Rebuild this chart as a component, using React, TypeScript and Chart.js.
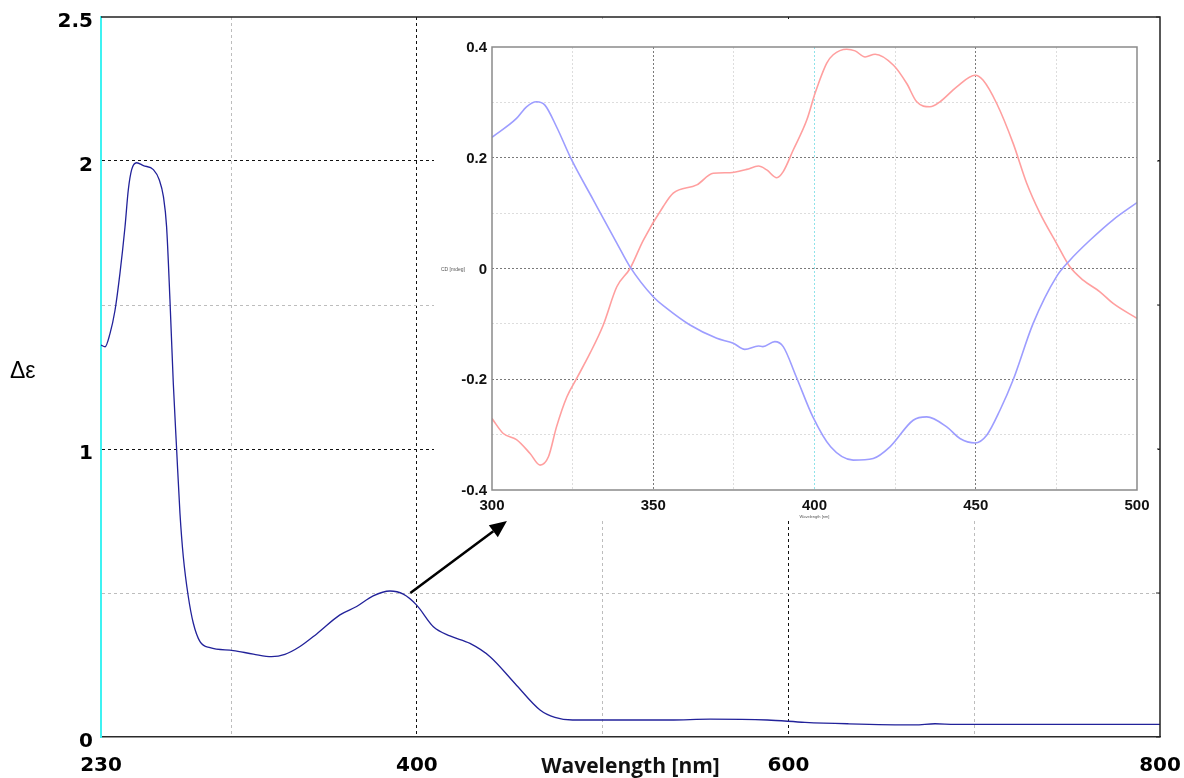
import React, { useEffect, useRef } from "react";
import { Chart, registerables } from "chart.js";

Chart.register(...registerables);

// ---------- main spectrum (Δε vs wavelength) ----------
const mainWavelength = [
  230, 232.2, 234.8, 237.5, 240.2, 242.9, 244.7, 246.5, 249.2, 252.8, 258.2, 261.4, 263.6,
  265.3, 267.1, 268.9, 270.7, 272.5, 274.3, 277, 279.7, 283.3, 288.7, 301.2, 312, 321.8,
  329, 337.1, 346.1, 358.6, 367.6, 376.5, 385.5, 392.7, 399.9, 408.9, 417.8, 428.6, 439.4,
  452.8, 466.3, 474.3, 483.8, 536.2, 557.8, 588.7, 608.9, 631.8, 668, 678.9, 689.6, 800,
];
const mainDeltaEps = [
  1.361, 1.355, 1.4, 1.48, 1.61, 1.77, 1.9, 1.97, 1.994, 1.984, 1.97, 1.934, 1.876,
  1.772, 1.52, 1.23, 1.0, 0.777, 0.626, 0.487, 0.395, 0.331, 0.31, 0.3, 0.288, 0.279,
  0.287, 0.314, 0.358, 0.424, 0.453, 0.49, 0.507, 0.496, 0.458, 0.383, 0.351, 0.325, 0.279,
  0.186, 0.094, 0.068, 0.059, 0.059, 0.062, 0.059, 0.051, 0.046, 0.042, 0.046, 0.044, 0.044,
];
const mainXTicks = [230, 300, 400, 500, 600, 700, 800];
const mainXLabels = [230, 400, 600, 800];
const mainYLabels = [0, 1, 2, 2.5];
const arrowFrom = [396.5, 0.5];
const arrowTo = [448.5, 0.75];

// ---------- inset (CD, 300–500 nm) ----------
const blueWavelength = [
  300, 307.6, 310.7, 313.8, 316.4, 320, 324.7, 331.4, 338.7, 342.8, 350, 354.2, 361.4,
  369.7, 374.8, 378.4, 382.6, 384, 387.7, 390.3, 394.3, 399.5, 405, 412, 418.2, 423.4,
  430.6, 434.8, 441, 445.1, 449.8, 453.4, 457.5, 461.6, 467.8, 475, 479.2, 485.4, 492.6, 500,
];
const blueCD = [
  0.237, 0.271, 0.292, 0.301, 0.295, 0.256, 0.196, 0.124, 0.046, 0.003, -0.051, -0.072, -0.102,
  -0.126, -0.135, -0.146, -0.14, -0.141, -0.132, -0.141, -0.195, -0.268, -0.322, -0.346, -0.343, -0.322,
  -0.274, -0.268, -0.286, -0.307, -0.315, -0.301, -0.256, -0.201, -0.099, -0.015, 0.015, 0.051, 0.088, 0.119,
];
const redWavelength = [
  300, 303.5, 307.6, 311.8, 314.9, 317.5, 320, 323.2, 326.3, 330.4, 334.5, 338.7, 342.8,
  346.9, 353.1, 356.2, 363.5, 368.6, 373.8, 379, 382.6, 385.2, 388.3, 390.3, 393.4, 397.6,
  400.2, 403.8, 405.8, 410, 412.6, 415.7, 418.8, 424.5, 428.6, 431.7, 435.8, 438.9, 444.1,
  449.8, 452.3, 456.5, 461.6, 465.8, 469.9, 475, 479.2, 483.3, 488.5, 492.6, 500,
];
const redCD = [
  -0.271, -0.298, -0.309, -0.334, -0.355, -0.34, -0.286, -0.232, -0.198, -0.153, -0.102, -0.033, 0,
  0.051, 0.112, 0.136, 0.151, 0.172, 0.173, 0.179, 0.185, 0.178, 0.164, 0.175, 0.214, 0.268,
  0.317, 0.371, 0.386, 0.396, 0.393, 0.382, 0.387, 0.367, 0.334, 0.301, 0.292, 0.301, 0.328,
  0.349, 0.34, 0.298, 0.226, 0.154, 0.1, 0.046, 0.003, -0.021, -0.042, -0.063, -0.09,
];

const toXY = (xs: number[], ys: number[]) => xs.map((x, i) => ({ x, y: ys[i] }));

export default function App() {
  const mainRef = useRef<HTMLCanvasElement>(null);
  const insetRef = useRef<HTMLCanvasElement>(null);

  useEffect(() => {
    const tickFont = { family: "'DejaVu Sans', sans-serif", weight: "bold" as const, size: 20 };

    const mainFrame = {
      id: "mainFrame",
      afterDraw(chart: any) {
        const { ctx, chartArea: a, scales } = chart;
        ctx.save();
        ctx.strokeStyle = "#222";
        ctx.lineWidth = 1.5;
        ctx.beginPath();
        ctx.moveTo(a.left, a.top);
        ctx.lineTo(a.right, a.top);
        ctx.lineTo(a.right, a.bottom);
        ctx.stroke();
        ctx.lineWidth = 1;
        scales.y.ticks.forEach((t: any) => {
          const py = scales.y.getPixelForValue(t.value);
          ctx.beginPath();
          ctx.moveTo(a.right - 4, py);
          ctx.lineTo(a.right, py);
          ctx.stroke();
        });
        // arrow annotation
        const x1 = scales.x.getPixelForValue(arrowFrom[0]);
        const y1 = scales.y.getPixelForValue(arrowFrom[1]);
        const x2 = scales.x.getPixelForValue(arrowTo[0]);
        const y2 = scales.y.getPixelForValue(arrowTo[1]);
        const ang = Math.atan2(y2 - y1, x2 - x1);
        const head = 17;
        const hw = 7.5;
        const bx = x2 - head * Math.cos(ang);
        const by = y2 - head * Math.sin(ang);
        ctx.strokeStyle = "#000";
        ctx.fillStyle = "#000";
        ctx.lineWidth = 2.5;
        ctx.beginPath();
        ctx.moveTo(x1, y1);
        ctx.lineTo(bx, by);
        ctx.stroke();
        ctx.beginPath();
        ctx.moveTo(x2, y2);
        ctx.lineTo(bx + hw * Math.sin(ang), by - hw * Math.cos(ang));
        ctx.lineTo(bx - hw * Math.sin(ang), by + hw * Math.cos(ang));
        ctx.closePath();
        ctx.fill();
        ctx.restore();
      },
    };

    const mainChart = new Chart(mainRef.current!, {
      type: "line",
      data: {
        datasets: [
          {
            data: toXY(mainWavelength, mainDeltaEps),
            borderColor: "#22229a",
            borderWidth: 1.3,
            pointRadius: 0,
            cubicInterpolationMode: "monotone",
            fill: false,
          },
        ],
      },
      options: {
        responsive: false,
        devicePixelRatio: 1,
        animation: false,
        layout: { padding: { top: 17, right: 24, left: 0, bottom: 0 } },
        plugins: { legend: { display: false }, tooltip: { enabled: false } },
        scales: {
          x: {
            type: "linear",
            min: 230,
            max: 800,
            afterBuildTicks: (scale: any) => {
              scale.ticks = mainXTicks.map((v) => ({ value: v }));
            },
            afterFit: (scale: any) => {
              scale.height = 41;
              scale.paddingLeft = 0;
              scale.paddingRight = 0;
            },
            ticks: {
              autoSkip: false,
              maxRotation: 0,
              padding: 17,
              color: "#000",
              font: tickFont,
              callback: (v: any) => (mainXLabels.includes(Number(v)) ? String(v) : ""),
            },
            grid: {
              drawTicks: false,
              lineWidth: 1,
              color: (c: any) => {
                const v = c.tick ? c.tick.value : 0;
                if (v === 230 || v === 800) return "rgba(0,0,0,0)";
                return v === 400 || v === 600 ? "#111" : "#bdbdbd";
              },
            },
            border: { display: true, color: "#2a2a2a", width: 1.5, dash: [3, 3] },
            title: {
              display: true,
              text: "Wavelength [nm]",
              color: "#111",
              font: { family: "'Open Sans', sans-serif", weight: "bold", size: 21 },
              padding: { top: 0, bottom: -2 },
            },
          },
          y: {
            type: "linear",
            min: 0,
            max: 2.5,
            afterFit: (scale: any) => {
              scale.width = 101;
              scale.paddingTop = 0;
              scale.paddingBottom = 0;
            },
            ticks: {
              stepSize: 0.5,
              padding: 8,
              labelOffset: 5,
              color: "#000",
              font: tickFont,
              callback: (v: any) => (mainYLabels.includes(Number(v)) ? String(v) : ""),
            },
            grid: {
              drawTicks: false,
              lineWidth: 1,
              color: (c: any) => {
                const v = c.tick ? c.tick.value : 0;
                if (v === 0 || v === 2.5) return "rgba(0,0,0,0)";
                return v === 1 || v === 2 ? "#111" : "#bdbdbd";
              },
            },
            border: { display: true, color: "#3ff2f2", width: 2, dash: [3, 3] },
          },
        },
      },
      plugins: [mainFrame],
    } as any);

    const insetFrame = {
      id: "insetFrame",
      afterDraw(chart: any) {
        const { ctx, chartArea: a } = chart;
        ctx.save();
        ctx.strokeStyle = "#8a8a8a";
        ctx.lineWidth = 1.5;
        ctx.strokeRect(a.left, a.top, a.right - a.left, a.bottom - a.top);
        ctx.restore();
      },
    };

    const insetFont = { family: "'Liberation Sans', Arial, sans-serif", weight: "bold" as const, size: 15 };

    const insetChart = new Chart(insetRef.current!, {
      type: "line",
      data: {
        datasets: [
          {
            data: toXY(blueWavelength, blueCD),
            borderColor: "#9d9dff",
            borderWidth: 1.6,
            pointRadius: 0,
            cubicInterpolationMode: "monotone",
            fill: false,
          },
          {
            data: toXY(redWavelength, redCD),
            borderColor: "#ff9f9f",
            borderWidth: 1.6,
            pointRadius: 0,
            cubicInterpolationMode: "monotone",
            fill: false,
          },
        ],
      },
      options: {
        responsive: false,
        devicePixelRatio: 1,
        animation: false,
        layout: { padding: { top: 28, right: 20, left: 0, bottom: 0 } },
        plugins: { legend: { display: false }, tooltip: { enabled: false } },
        scales: {
          x: {
            type: "linear",
            min: 300,
            max: 500,
            afterFit: (scale: any) => {
              scale.height = 31;
              scale.paddingLeft = 0;
              scale.paddingRight = 0;
            },
            ticks: {
              stepSize: 25,
              autoSkip: false,
              maxRotation: 0,
              padding: 7,
              color: "#111",
              font: insetFont,
              callback: (v: any) => (Number(v) % 50 === 0 ? String(v) : ""),
            },
            grid: {
              drawTicks: false,
              lineWidth: 1,
              color: (c: any) => {
                const v = c.tick ? c.tick.value : 0;
                if (v === 300 || v === 500) return "rgba(0,0,0,0)";
                if (v === 400) return "#8fe3ea";
                return v % 50 === 0 ? "#7a7a7a" : "#dddddd";
              },
            },
            border: { display: false, dash: [2, 2] },
            title: {
              display: true,
              text: "Wavelength [nm]",
              color: "#555",
              font: { family: "'Liberation Sans', sans-serif", size: 4 },
              padding: { top: 0, bottom: 2 },
            },
          },
          y: {
            type: "linear",
            min: -0.4,
            max: 0.4,
            afterFit: (scale: any) => {
              scale.width = 58;
              scale.paddingTop = 0;
              scale.paddingBottom = 0;
            },
            ticks: {
              stepSize: 0.1,
              padding: 5,
              labelOffset: 1,
              color: "#111",
              font: insetFont,
              callback: (v: any) => {
                const n = Math.round(Number(v) * 10);
                if (n % 2 !== 0) return "";
                return n === 0 ? "0" : (n / 10).toFixed(1);
              },
            },
            grid: {
              drawTicks: false,
              lineWidth: 1,
              color: (c: any) => {
                const n = c.tick ? Math.round(c.tick.value * 10) : 0;
                if (n === 4 || n === -4) return "rgba(0,0,0,0)";
                return n % 2 === 0 ? "#7a7a7a" : "#dddddd";
              },
            },
            border: { display: false, dash: [2, 2] },
          },
        },
      },
      plugins: [insetFrame],
    } as any);

    return () => {
      mainChart.destroy();
      insetChart.destroy();
    };
  }, []);

  return (
    <div style={{ position: "fixed", left: 0, top: 0, width: 1184, height: 778, background: "#fff", overflow: "hidden" }}>
      <canvas ref={mainRef} width={1184} height={778} style={{ position: "absolute", left: 0, top: 0, width: 1184, height: 778 }} />
      <canvas
        ref={insetRef}
        width={723}
        height={502}
        style={{ position: "absolute", left: 434, top: 19, width: 723, height: 502, background: "#fff" }}
      />
      <div
        style={{
          position: "absolute",
          left: 10,
          top: 359,
          fontFamily: "'Liberation Sans', Arial, sans-serif",
          fontSize: 23,
          lineHeight: "23px",
          color: "#000",
        }}
      >
        Δε
      </div>
      <div
        style={{
          position: "absolute",
          left: 441,
          top: 267,
          fontFamily: "'Liberation Sans', Arial, sans-serif",
          fontSize: 5,
          lineHeight: "5px",
          color: "#555",
        }}
      >
        CD [mdeg]
      </div>
    </div>
  );
}
